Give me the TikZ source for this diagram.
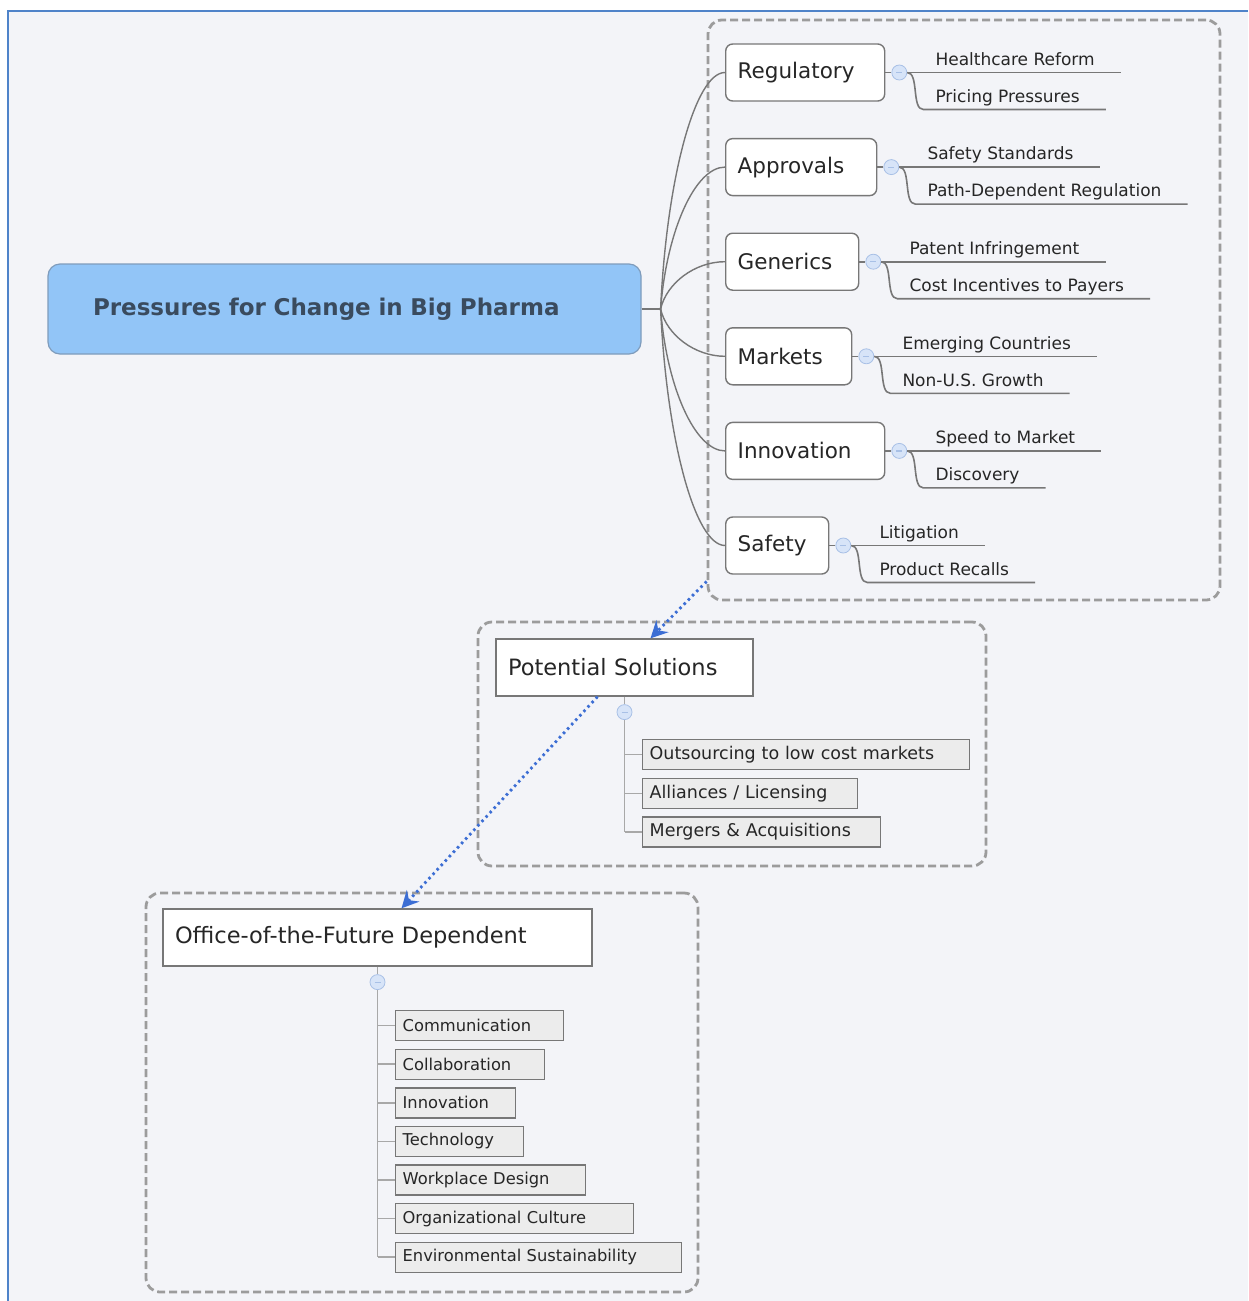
\documentclass[tikz,border=0pt]{standalone}
\usepackage{fontspec}
\setmainfont{DejaVu Sans}
\usetikzlibrary{positioning,calc,arrows.meta}

\definecolor{bgpanel}{HTML}{F3F4F8}
\definecolor{frameblue}{HTML}{4F83C9}
\definecolor{rootfill}{HTML}{92C5F7}
\definecolor{rootline}{HTML}{7F9CBC}
\definecolor{roottext}{HTML}{3A4B5E}
\definecolor{linkgray}{HTML}{777777}
\definecolor{trunkgray}{HTML}{A8A8A8}
\definecolor{groupgray}{HTML}{9C9C9C}
\definecolor{leaffill}{HTML}{ECECEC}
\definecolor{knobfill}{HTML}{D7E4F8}
\definecolor{knobline}{HTML}{A8C0E6}
\definecolor{relblue}{HTML}{3C6ED4}

\newcommand\fmain{\fontsize{23}{26}\selectfont}
\newcommand\fcat{\fontsize{21.5}{24}\selectfont}
\newcommand\fhead{\fontsize{22.5}{25}\selectfont}
\newcommand\fsub{\fontsize{17}{19}\selectfont}
\newcommand\fleafa{\fontsize{17.5}{19}\selectfont}
\newcommand\fleafb{\fontsize{16.3}{18}\selectfont}

\tikzset{
  root/.style={rectangle, rounded corners=12pt, draw=rootline, line width=1.2pt,
    fill=rootfill, text=roottext, font=\fmain\bfseries, minimum width=593pt,
    minimum height=90pt, text width=503pt, inner xsep=45pt, align=left},
  topic/.style={rectangle, rounded corners=7pt, draw=linkgray, line width=1.4pt,
    fill=white, text=black!85, font=\fcat, minimum height=57pt, inner xsep=12pt,
    align=left, anchor=west},
  sub/.style={font=\fsub, text=black!85, inner xsep=0pt, inner ysep=3pt,
    text height=12pt, text depth=4pt, anchor=south west},
  knob/.style={circle, draw=knobline, fill=knobfill, line width=0.8pt,
    minimum size=15pt, inner sep=0pt, text=knobline},
  link/.style={draw=linkgray, line width=1.4pt},
  branch/.style={draw=linkgray, line width=1.6pt},
  trunk/.style={draw=trunkgray, line width=1.6pt},
  group/.style={rectangle, rounded corners=14pt, draw=groupgray, line width=2.8pt,
    dash pattern=on 8pt off 4pt},
  head/.style={rectangle, draw=linkgray, line width=1.4pt, fill=white, text=black!85,
    font=\fhead, minimum height=57pt, inner xsep=12pt, align=left},
  leaf/.style={rectangle, draw=linkgray, line width=1.3pt, fill=leaffill, text=black!85,
    minimum height=30pt, inner xsep=7pt, align=left, anchor=north west},
  relation/.style={draw=relblue, line width=2.8pt, dash pattern=on 2.5pt off 3.5pt,
    -{Stealth[length=17pt,width=17pt,inset=6pt]}},
}

\begin{document}
\begin{tikzpicture}[x=1pt,y=-1pt]
  \useasboundingbox (0,0) rectangle (1248,1301);
  \fill[white] (0,0) rectangle (1248,1301);
  \fill[bgpanel] (8,11) rectangle (1248,1301);
  \draw[frameblue, line width=1.5pt] (8,1301) -- (8,11) -- (1248,11);

  % boundaries
  \node[group, minimum width=512pt, minimum height=580pt] (g1) at (964,310) {};
  \node[group, minimum width=508pt, minimum height=244pt] (g2) at (732,744) {};
  \node[group, minimum width=552pt, minimum height=399pt] (g3) at (422,1092.5) {};

  % central topic
  \node[root] (root) at (344.5,309) {Pressures for Change in Big Pharma};
  \coordinate[right=19pt of root] (hub);
  \draw[link] (root) -- (hub);

  % pressures
  \foreach \nm/\txt/\tw/\i/\sa/\sb in {
      reg/Regulatory/135/0/Healthcare Reform/Pricing Pressures,
      app/Approvals/127/1/Safety Standards/Path-Dependent Regulation,
      gen/Generics/109/2/Patent Infringement/Cost Incentives to Payers,
      mkt/Markets/102/3/Emerging Countries/Non-U.S. Growth,
      inn/Innovation/135/4/Speed to Market/Discovery,
      saf/Safety/79/5/Litigation/Product Recalls}
  {
    \node[topic, text width=\tw pt] (\nm) at (725,72.5+94.6*\i) {\txt};
    \node[knob, right=6pt of \nm] (k\nm) {\rule{6pt}{1.2pt}};
    \node[sub] (\nm a) at ($(k\nm.center)+(36,0)$) {\sa};
    \node[sub] (\nm b) at ($(k\nm.center)+(36,37)$) {\sb};
    \draw[branch] (\nm.east) -- (k\nm);
    \draw[branch] (k\nm.east) -- ([xshift=26pt]\nm a.south east);
    \draw[branch] (k\nm.east) .. controls +(12,0) and +(-12,0) .. ([xshift=-12pt]\nm b.south west)
      -- ([xshift=26pt]\nm b.south east);
    \draw[link] (hub) .. controls ($(hub)!0.55!(hub |- \nm.west)+(6,0)$) and ([xshift=-30pt]\nm.west) .. (\nm.west);
  }

  % solutions
  \node[head, text width=233pt] (ps) at (624.5,667.5) {Potential Solutions};
  \node[knob, below=7.5pt of ps] (kps) {\rule{6pt}{1.2pt}};
  \node[leaf, font=\fleafa, text width=313pt] (outs) at (642,739) {Outsourcing to low cost markets};
  \node[leaf, font=\fleafa, text width=201pt, below right=7.4pt and 0pt of outs.south west] (alli) {Alliances / Licensing};
  \node[leaf, font=\fleafa, text width=224pt, below right=7.4pt and 0pt of alli.south west] (merg) {Mergers \& Acquisitions};
  \draw[trunk] (ps) -- (kps);
  \draw[trunk] (kps) -- (kps |- merg.west);
  \foreach \lf in {outs,alli,merg}
    \draw[trunk] (kps |- \lf.west) -- (\lf.west);

  % office of the future
  \node[head, text width=405pt] (off) at (377.5,937.5) {Office-of-the-Future Dependent};
  \node[knob, below=7.5pt of off] (koff) {\rule{6pt}{1.2pt}};
  \node[leaf, font=\fleafb, text width=154pt] (comm) at (395,1010) {Communication};
  \node[leaf, font=\fleafb, text width=135pt, below right=7.3pt and 0pt of comm.south west] (coll) {Collaboration};
  \node[leaf, font=\fleafb, text width=106pt, below right=7.3pt and 0pt of coll.south west] (inno) {Innovation};
  \node[leaf, font=\fleafb, text width=114pt, below right=7.3pt and 0pt of inno.south west] (tech) {Technology};
  \node[leaf, font=\fleafb, text width=176pt, below right=7.3pt and 0pt of tech.south west] (work) {Workplace Design};
  \node[leaf, font=\fleafb, text width=224pt, below right=7.3pt and 0pt of work.south west] (orga) {Organizational Culture};
  \node[leaf, font=\fleafb, text width=272pt, below right=7.3pt and 0pt of orga.south west] (envi) {Environmental Sustainability};
  \draw[trunk] (off) -- (koff);
  \draw[trunk] (koff) -- (koff |- envi.west);
  \foreach \lf in {comm,coll,inno,tech,work,orga,envi}
    \draw[trunk] (koff |- \lf.west) -- (\lf.west);

  % relationships
  \draw[relation] ([yshift=20pt]g1.south west) -- ([xshift=26pt]ps.north);
  \draw[relation] ([xshift=-27pt]ps.south) -- ([xshift=24pt]off.north);
\end{tikzpicture}
\end{document}
